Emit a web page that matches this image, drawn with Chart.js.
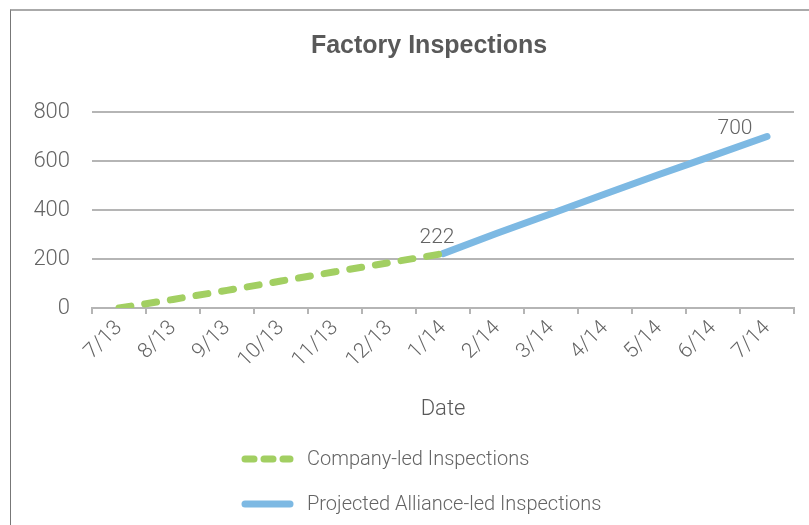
<!DOCTYPE html>
<html>
<head>
<meta charset="utf-8">
<script src="https://cdn.jsdelivr.net/npm/chart.js@4"></script>
<style>
  html, body { margin:0; padding:0; background:#fff; overflow:hidden; }
  #frame {
    position:absolute; left:10px; top:9px;
    width:836px; height:516px;
    border-top:2px solid #aaaaaa; border-left:1px solid #777;
  }
  #wrap { position:relative; width:836px; height:516px; }
</style>
</head>
<body>
<div id="frame"><div id="wrap"><canvas id="chart"></canvas></div></div>
<script>
// ------------------ DATA ------------------
const dates = ["7/13","8/13","9/13","10/13","11/13","12/13","1/14","2/14","3/14","4/14","5/14","6/14","7/14"];
const companyLed = [0, 35, 72, 110, 148, 185, 222, null, null, null, null, null, null];
const allianceLed = [null, null, null, null, null, null, 222, 305, 385, 465, 545, 622, 700];
const yTicks = [0, 200, 400, 600, 800];
const seriesNames = ["Company-led Inspections", "Projected Alliance-led Inspections"];

const grey = "#646464";
const font = "Roboto";

// ------------------ PLUGINS ------------------
// y labels sit in the side padding, so widen the label clip box
const yLabelRoom = {
  id: "yLabelRoom",
  afterLayout(chart){ chart.scales.y.left = 0; }
};

// value labels on 1/14 and 7/14
const pointLabels = {
  id: "pointLabels",
  afterDatasetsDraw(chart){
    const ctx = chart.ctx;
    const meta = chart.getDatasetMeta(1);
    const marks = [{i:6, dx:-6, dy:-11}, {i:12, dx:-32, dy:-3}];
    ctx.save();
    ctx.font = "300 21px " + font;
    ctx.fillStyle = grey;
    ctx.textAlign = "center";
    ctx.textBaseline = "alphabetic";
    marks.forEach(m=>{
      const p = meta.data[m.i];
      ctx.fillText(String(allianceLed[m.i]), p.x + m.dx, p.y + m.dy);
    });
    ctx.restore();
  }
};

// vertical legend, left aligned
const sideLegend = {
  id: "sideLegend",
  afterDraw(chart){
    const ctx = chart.ctx;
    const x0 = 230, rows = [448, 493];
    ctx.save();
    chart.data.datasets.forEach((ds, k)=>{
      const y = rows[k];
      ctx.strokeStyle = ds.borderColor;
      ctx.lineWidth = 7;
      ctx.lineCap = "round";
      ctx.setLineDash(ds.borderDash ? [9, 10] : []);
      ctx.beginPath();
      ctx.moveTo(x0 + 4, y);
      ctx.lineTo(x0 + 49, y);
      ctx.stroke();
      ctx.setLineDash([]);
      ctx.font = "300 20px " + font;
      ctx.fillStyle = grey;
      ctx.textBaseline = "middle";
      ctx.fillText(ds.label, x0 + 66, y + 1);
    });
    ctx.restore();
  }
};

// ------------------ CHART ------------------
new Chart(document.getElementById("chart"), {
  type: "line",
  data: {
    labels: dates,
    datasets: [
      {
        label: seriesNames[0],
        data: companyLed,
        borderColor: "#a2cf62",
        borderWidth: 7,
        borderDash: [12, 14],
        borderCapStyle: "round",
        pointRadius: 0,
        spanGaps: false
      },
      {
        label: seriesNames[1],
        data: allianceLed,
        borderColor: "#7db9e3",
        borderWidth: 7,
        borderCapStyle: "round",
        pointRadius: 0,
        spanGaps: false
      }
    ]
  },
  options: {
    responsive: true,
    maintainAspectRatio: false,
    animation: false,
    layout: { padding: { left: 53, right: 53, top: 0, bottom: 100 } },
    plugins: {
      legend: { display: false },
      tooltip: { enabled: false },
      title: {
        display: true,
        text: "Factory Inspections",
        color: "#595959",
        font: { family: "Liberation Sans", size: 25, weight: "bold" },
        padding: { top: 20, bottom: 51 }
      }
    },
    scales: {
      x: {
        offset: true,
        afterFit(axis){ axis.height = 119; },
        grid: { display: true, drawOnChartArea: false, offset: true, tickLength: 6, color: "#b5b5b5", lineWidth: 2 },
        border: { color: "#b5b5b5", width: 2 },
        ticks: { color: grey, font: { family: font, size: 21, weight: "300" }, maxRotation: 45, minRotation: 45, padding: 2 },
        title: { display: true, text: "Date", color: "#595959", font: { family: font, size: 22, weight: "300" }, padding: { top: 4, bottom: 4 } }
      },
      y: {
        min: 0, max: 800,
        afterBuildTicks(axis){ axis.ticks = yTicks.map(v=>({value:v})); },
        afterFit(axis){ axis.width = 28; },
        grid: { color: "#b5b5b5", lineWidth: 2, drawTicks: false },
        border: { display: false },
        ticks: { color: grey, font: { family: font, size: 22, weight: "300" }, padding: 22 }
      }
    }
  },
  plugins: [yLabelRoom, pointLabels, sideLegend]
});
</script>
</body>
</html>
